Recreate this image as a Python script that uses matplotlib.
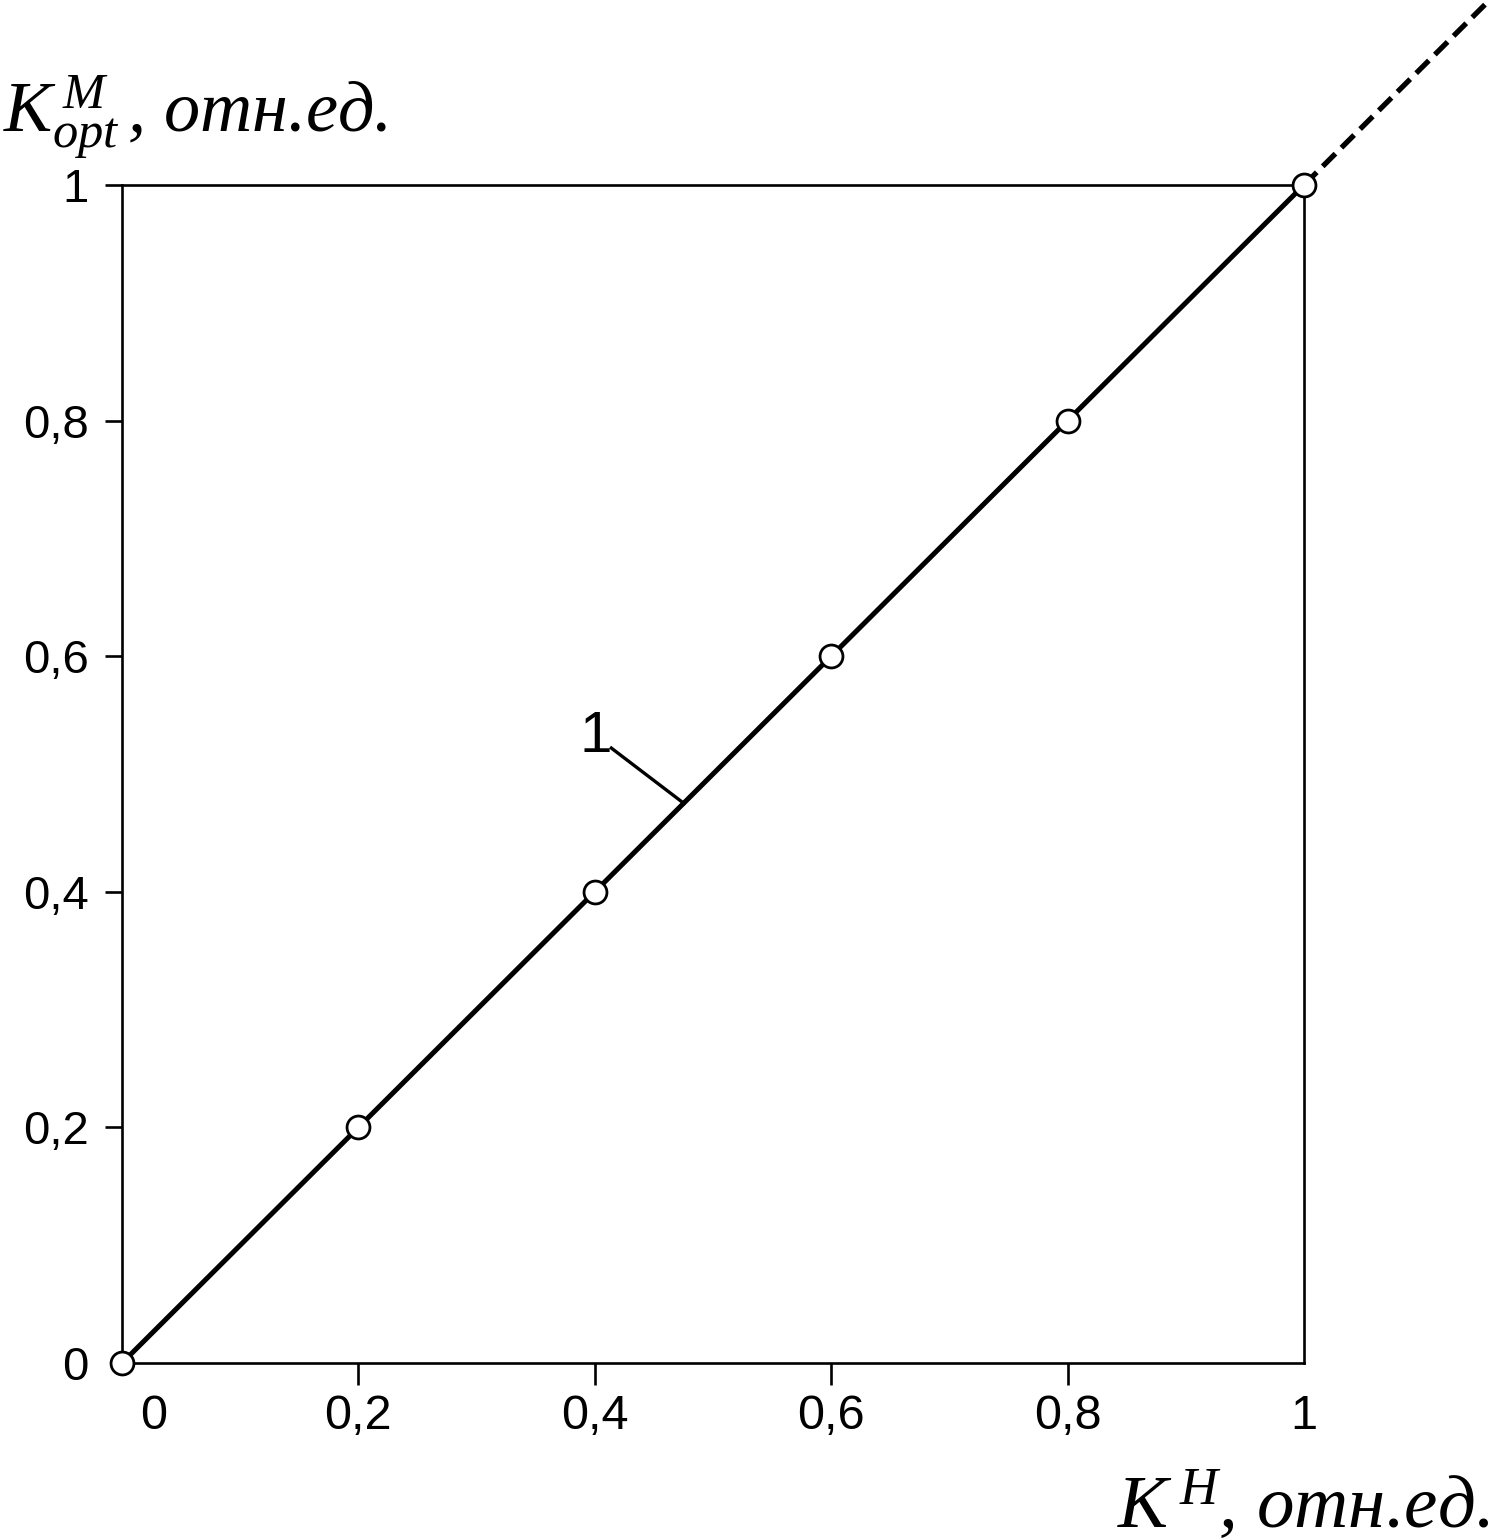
import matplotlib
matplotlib.use("Agg")
import matplotlib.pyplot as plt
from matplotlib.transforms import ScaledTranslation

plt.rcParams["mathtext.fontset"] = "custom"
plt.rcParams["mathtext.rm"] = "Liberation Serif"
plt.rcParams["mathtext.it"] = "Liberation Serif:italic"

# measured points, curve 1
k_h = [0.0, 0.2, 0.4, 0.6, 0.8, 1.0]
k_opt = [0.0, 0.2, 0.4, 0.6, 0.8, 1.0]
# extrapolation beyond the measured range
k_h_ext = [1.0, 1.16]
k_opt_ext = [1.0, 1.16]

tick_vals = [0, 0.2, 0.4, 0.6, 0.8, 1]
tick_labels = ["0", "0,2", "0,4", "0,6", "0,8", "1"]

fig = plt.figure(figsize=(14.91, 15.4), dpi=100)
ax = fig.add_axes([0.0818, 0.1149, 0.7928, 0.765])

ax.plot(k_h_ext, k_opt_ext, color="black", lw=3.8, dashes=(3.4, 1.6),
        clip_on=False, zorder=2)
ax.plot(k_h, k_opt, color="black", lw=3.6, marker="o", ms=16.5,
        mfc="white", mec="black", mew=2.0, clip_on=False, zorder=3)

# leader for curve label
ax.plot([0.414, 0.4755], [0.522, 0.475], color="black", lw=2.4)
ax.text(0.401, 0.531, "1", fontsize=42, family="Liberation Sans",
        ha="center", va="center")

ax.set_xlim(0, 1)
ax.set_ylim(0, 1)
for s in ax.spines.values():
    s.set_linewidth(1.9)

ax.set_xticks(tick_vals)
ax.set_xticklabels(tick_labels, fontsize=35, family="Liberation Sans")
ax.set_yticks(tick_vals)
ax.set_yticklabels(tick_labels, fontsize=34, family="Liberation Sans")
ax.tick_params(axis="x", direction="out", length=16, width=1.9, pad=6)
ax.tick_params(axis="y", direction="out", length=12, width=1.9, pad=12)

# no tick marks at the corners
xt = ax.xaxis.get_major_ticks()
xt[0].tick1line.set_visible(False)
xt[-1].tick1line.set_visible(False)
ax.yaxis.get_major_ticks()[0].tick1line.set_visible(False)

# x "0" sits a bit right of the corner
lbl0 = ax.get_xticklabels()[0]
lbl0.set_transform(lbl0.get_transform() + ScaledTranslation(0.32, 0, fig.dpi_scale_trans))

fig.text(3 / 1491, 1 - 132 / 1540, r"$K_{opt}^{\,M}\,$, отн.ед.",
         fontsize=52, family="Liberation Serif", style="italic",
         ha="left", va="baseline")
fig.text(1489 / 1491, 1 - 1527 / 1540, r"$K^{\,H}$, отн.ед.",
         fontsize=54, family="Liberation Serif", style="italic",
         ha="right", va="baseline")

fig.savefig("out.png", dpi=100)
